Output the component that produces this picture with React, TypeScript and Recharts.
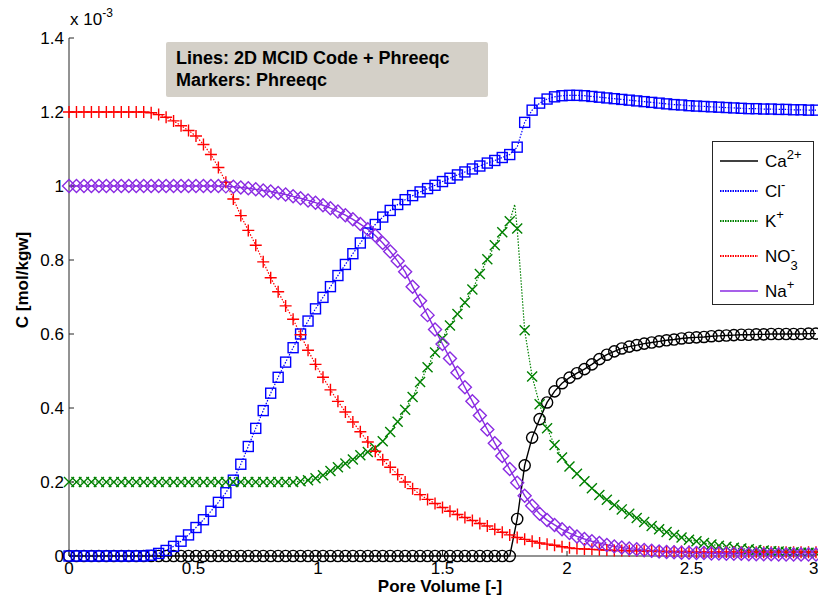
import React from "react";
import { ComposedChart, Line, Scatter, XAxis, YAxis } from "recharts";

// pore volume sampled by Phreeqc (every 0.03)
const PORE_VOLUME = [
  0, 0.03, 0.06, 0.09, 0.12, 0.15, 0.18, 0.21, 0.24, 0.27,
  0.3, 0.33, 0.36, 0.39, 0.42, 0.45, 0.48, 0.51, 0.54, 0.57,
  0.6, 0.63, 0.66, 0.69, 0.72, 0.75, 0.78, 0.81, 0.84, 0.87,
  0.9, 0.93, 0.96, 0.99, 1.02, 1.05, 1.08, 1.11, 1.14, 1.17,
  1.2, 1.23, 1.26, 1.29, 1.32, 1.35, 1.38, 1.41, 1.44, 1.47,
  1.5, 1.53, 1.56, 1.59, 1.62, 1.65, 1.68, 1.71, 1.74, 1.77,
  1.8, 1.83, 1.86, 1.89, 1.92, 1.95, 1.98, 2.01, 2.04, 2.07,
  2.1, 2.13, 2.16, 2.19, 2.22, 2.25, 2.28, 2.31, 2.34, 2.37,
  2.4, 2.43, 2.46, 2.49, 2.52, 2.55, 2.58, 2.61, 2.64, 2.67,
  2.7, 2.73, 2.76, 2.79, 2.82, 2.85, 2.88, 2.91, 2.94, 2.97,
  3,
];

// concentrations in 1e-3 mol/kgw
const CA = [
  0, 0, 0, 0, 0, 0, 0, 0, 0, 0,
  0, 0, 0, 0, 0, 0, 0, 0, 0, 0,
  0, 0, 0, 0, 0, 0, 0, 0, 0, 0,
  0, 0, 0, 0, 0, 0, 0, 0, 0, 0,
  0, 0, 0, 0, 0, 0, 0, 0, 0, 0,
  0, 0, 0, 0, 0, 0, 0, 0, 0, 0,
  0.1, 0.245, 0.32, 0.37, 0.415, 0.445, 0.467, 0.482, 0.494, 0.505,
  0.518, 0.532, 0.544, 0.553, 0.561, 0.566, 0.57, 0.574, 0.577, 0.58,
  0.583, 0.585, 0.588, 0.59, 0.591, 0.592, 0.594, 0.595, 0.596, 0.597,
  0.598, 0.598, 0.599, 0.599, 0.6, 0.6, 0.6, 0.6, 0.6, 0.601,
  0.601,
];

const CL = [
  0, 0, 0, 0, 0, 0, 0, 0, 0, 0,
  0, 0.002, 0.007, 0.015, 0.026, 0.04, 0.057, 0.077, 0.098, 0.121,
  0.145, 0.171, 0.205, 0.248, 0.296, 0.345, 0.393, 0.44, 0.483, 0.524,
  0.563, 0.6, 0.635, 0.668, 0.699, 0.728, 0.758, 0.788, 0.817, 0.846,
  0.873, 0.896, 0.916, 0.934, 0.95, 0.963, 0.974, 0.984, 0.993, 1.002,
  1.012, 1.021, 1.03, 1.038, 1.046, 1.054, 1.062, 1.069, 1.077, 1.085,
  1.105, 1.172, 1.205, 1.224, 1.235, 1.241, 1.244, 1.245, 1.245, 1.244,
  1.242, 1.24, 1.238, 1.236, 1.234, 1.232, 1.23, 1.228, 1.226, 1.224,
  1.222, 1.22, 1.219, 1.217, 1.216, 1.215, 1.214, 1.213, 1.212, 1.211,
  1.21, 1.209, 1.209, 1.208, 1.208, 1.207, 1.207, 1.206, 1.206, 1.205,
  1.205,
];

const K = [
  0.2, 0.2, 0.2, 0.2, 0.2, 0.2, 0.2, 0.2, 0.2, 0.2,
  0.2, 0.2, 0.2, 0.2, 0.2, 0.2, 0.2, 0.2, 0.2, 0.2,
  0.2, 0.2, 0.2, 0.2, 0.2, 0.2, 0.2, 0.2, 0.2, 0.2,
  0.2, 0.202, 0.205, 0.21, 0.218, 0.23, 0.24, 0.25, 0.261, 0.272,
  0.281, 0.292, 0.31, 0.335, 0.363, 0.395, 0.43, 0.47, 0.51, 0.55,
  0.588, 0.623, 0.654, 0.685, 0.72, 0.762, 0.802, 0.84, 0.875, 0.905,
  0.885, 0.61, 0.485, 0.41, 0.345, 0.3, 0.266, 0.242, 0.222, 0.202,
  0.183, 0.165, 0.152, 0.138, 0.126, 0.114, 0.103, 0.092, 0.081, 0.072,
  0.065, 0.057, 0.05, 0.044, 0.04, 0.035, 0.031, 0.028, 0.025, 0.022,
  0.02, 0.018, 0.016, 0.015, 0.013, 0.012, 0.011, 0.01, 0.009, 0.009,
  0.008,
];

// the fine-grid MCID line peaks between two Phreeqc samples
const K_PEAK_PV = 1.79;
const K_PEAK = 0.95;

const NO3 = [
  1.2, 1.2, 1.2, 1.2, 1.2, 1.2, 1.2, 1.2, 1.2, 1.2,
  1.2, 1.198, 1.193, 1.186, 1.176, 1.163, 1.15, 1.135, 1.112, 1.085,
  1.05, 1.01, 0.965, 0.92, 0.88, 0.84, 0.795, 0.752, 0.714, 0.676,
  0.64, 0.598, 0.556, 0.518, 0.483, 0.449, 0.418, 0.389, 0.362, 0.336,
  0.308, 0.283, 0.26, 0.24, 0.22, 0.2, 0.182, 0.166, 0.153, 0.142,
  0.131, 0.121, 0.112, 0.104, 0.096, 0.088, 0.081, 0.072, 0.064, 0.057,
  0.05, 0.045, 0.04, 0.035, 0.032, 0.029, 0.025, 0.022, 0.02, 0.019,
  0.018, 0.017, 0.016, 0.015, 0.015, 0.014, 0.014, 0.013, 0.013, 0.013,
  0.012, 0.012, 0.012, 0.012, 0.011, 0.011, 0.011, 0.011, 0.011, 0.011,
  0.01, 0.01, 0.01, 0.01, 0.01, 0.01, 0.01, 0.01, 0.01, 0.01,
  0.01,
];

const NA = [
  1, 1, 1, 1, 1, 1, 1, 1, 1, 1,
  1, 1, 1, 1, 1, 1, 1, 1, 1, 1,
  1, 0.999, 0.998, 0.996, 0.994, 0.991, 0.988, 0.985, 0.981, 0.977,
  0.972, 0.967, 0.961, 0.955, 0.948, 0.94, 0.931, 0.921, 0.91, 0.897,
  0.883, 0.866, 0.846, 0.823, 0.797, 0.768, 0.728, 0.69, 0.651, 0.612,
  0.573, 0.534, 0.495, 0.456, 0.418, 0.38, 0.342, 0.305, 0.27, 0.235,
  0.198, 0.163, 0.136, 0.114, 0.097, 0.084, 0.072, 0.062, 0.053, 0.046,
  0.04, 0.035, 0.03, 0.026, 0.023, 0.02, 0.018, 0.016, 0.014, 0.012,
  0.011, 0.01, 0.009, 0.009, 0.008, 0.008, 0.007, 0.007, 0.006, 0.006,
  0.006, 0.005, 0.005, 0.005, 0.005, 0.004, 0.004, 0.004, 0.004, 0.004,
  0.004,
];

const X_TICKS = [0, 0.5, 1, 1.5, 2, 2.5, 3];
const Y_TICKS = [0, 0.2, 0.4, 0.6, 0.8, 1, 1.2, 1.4];

const FONT = '"Liberation Sans", Arial, Helvetica, sans-serif';
const AXIS = "#262626";

type Pt = { x: number; y: number };
const toPoints = (values: number[]): Pt[] => PORE_VOLUME.map((x, i) => ({ x, y: values[i] }));

const kLine = (() => {
  const pts = toPoints(K);
  const at = pts.findIndex((p) => p.x > K_PEAK_PV);
  pts.splice(at, 0, { x: K_PEAK_PV, y: K_PEAK });
  return pts;
})();

const marker = (kind: string, color: string) => (p: any) => {
  const { cx, cy } = p;
  if (cx == null || cy == null) return null;
  const common = { fill: "none", stroke: color, strokeWidth: 1.4 };
  switch (kind) {
    case "circle":
      return <circle cx={cx} cy={cy} r={5.6} {...common} />;
    case "square":
      return <rect x={cx - 5} y={cy - 5} width={10} height={10} {...common} />;
    case "x":
      return <path d={`M${cx - 5},${cy - 5}L${cx + 5},${cy + 5}M${cx + 5},${cy - 5}L${cx - 5},${cy + 5}`} {...common} />;
    case "plus":
      return <path d={`M${cx - 6},${cy}H${cx + 6}M${cx},${cy - 6}V${cy + 6}`} {...common} />;
    default:
      return <path d={`M${cx},${cy - 6.5}L${cx + 6.5},${cy}L${cx},${cy + 6.5}L${cx - 6.5},${cy}Z`} {...common} />;
  }
};

const SERIES = [
  { key: "ca", name: "Ca", sup: "2+", sub: "", color: "#000000", dash: undefined, shape: "circle", values: CA },
  { key: "cl", name: "Cl", sup: "-", sub: "", color: "#0000ff", dash: "1.5 1.5", shape: "square", values: CL },
  { key: "k", name: "K", sup: "+", sub: "", color: "#008000", dash: "1.5 1.5", shape: "x", values: K },
  { key: "no3", name: "NO", sup: "-", sub: "3", color: "#ff0000", dash: "1.5 1.5", shape: "plus", values: NO3 },
  { key: "na", name: "Na", sup: "+", sub: "", color: "#8a2be2", dash: undefined, shape: "diamond", values: NA },
];

const ChartLegend = () => (
  <div
    style={{
      position: "absolute",
      left: 712,
      top: 141,
      width: 102,
      height: 164,
      border: `1px solid ${AXIS}`,
      background: "#fff",
      boxSizing: "border-box",
      paddingTop: 4,
      fontFamily: FONT,
      fontSize: 17,
    }}
  >
    {SERIES.map((s) => (
      <div key={s.key} style={{ display: "flex", alignItems: "center", height: s.sub ? 40 : 30 }}>
        <svg width={46} height={6} style={{ marginLeft: 6 }}>
          <line x1={1} y1={3} x2={39} y2={3} stroke={s.color} strokeWidth={s.dash ? 2 : 1.6} strokeDasharray={s.dash ? "1.5 1" : undefined} />
        </svg>
        <span style={{ position: "relative", lineHeight: 1 }}>
          {s.name}
          {s.sub ? (
            <span style={{ position: "relative", fontSize: 13, top: 8 }}>{s.sub}</span>
          ) : null}
          <span style={{ position: "relative", fontSize: 13, top: -8, marginLeft: s.sub ? -7 : 0 }}>{s.sup}</span>
        </span>
      </div>
    ))}
  </div>
);

export default function App() {
  const tickStyle = { fill: "#000", fontSize: 17, fontFamily: FONT };
  return (
    <div style={{ position: "absolute", left: 0, top: 0, width: 818, height: 604, background: "#fff", fontFamily: FONT }}>
      <ComposedChart width={818} height={604} margin={{ top: 38, right: 2, bottom: 0, left: 0 }}>
        <XAxis
          xAxisId="b"
          type="number"
          dataKey="x"
          domain={[0, 3]}
          ticks={X_TICKS}
          height={48}
          stroke={AXIS}
          tickSize={-5}
          tickMargin={11}
          tick={tickStyle}
        />
        <XAxis xAxisId="t" orientation="top" type="number" domain={[0, 3]} ticks={X_TICKS} allowDataOverflow height={0} stroke={AXIS} tickSize={-5} tick={false} />
        <YAxis
          yAxisId="l"
          type="number"
          dataKey="y"
          domain={[0, 1.4]}
          ticks={Y_TICKS}
          width={69}
          stroke={AXIS}
          tickSize={-5}
          tickMargin={10}
          tick={tickStyle}
        />
        <YAxis yAxisId="r" orientation="right" type="number" domain={[0, 1.4]} ticks={Y_TICKS} allowDataOverflow width={0} stroke={AXIS} tickSize={-5} tick={false} />

        {SERIES.map((s) => (
          <Line
            key={`line-${s.key}`}
            xAxisId="b"
            yAxisId="l"
            data={s.key === "k" ? kLine : toPoints(s.values)}
            dataKey="y"
            type="linear"
            stroke={s.color}
            strokeWidth={s.dash ? 1.2 : 1.4}
            strokeDasharray={s.dash}
            dot={false}
            activeDot={false}
            isAnimationActive={false}
          />
        ))}
        {SERIES.map((s) => (
          <Scatter
            key={`pts-${s.key}`}
            xAxisId="b"
            yAxisId="l"
            data={toPoints(s.values)}
            dataKey="y"
            shape={marker(s.shape, s.color)}
            isAnimationActive={false}
          />
        ))}
      </ComposedChart>

      <div style={{ position: "absolute", left: 70, top: 10, fontSize: 17, color: "#000" }}>
        x 10<span style={{ fontSize: 12, position: "relative", top: -8 }}>-3</span>
      </div>

      <div
        style={{
          position: "absolute",
          left: 166,
          top: 42,
          width: 322,
          height: 55,
          background: "#d4d0c8",
          borderRadius: 2,
          boxSizing: "border-box",
          padding: "5px 0 0 10px",
          fontWeight: "bold",
          fontSize: 18,
          lineHeight: "22px",
          color: "#000",
        }}
      >
        <div>Lines: 2D MCID Code + Phreeqc</div>
        <div>Markers: Phreeqc</div>
      </div>

      <ChartLegend />

      <div style={{ position: "absolute", left: 0, width: 818, top: 577, textAlign: "center", paddingLeft: 62, boxSizing: "border-box", fontWeight: "bold", fontSize: 17 }}>
        Pore Volume [-]
      </div>
      <div
        style={{
          position: "absolute",
          left: 23,
          top: 280,
          transform: "translate(-50%, -50%) rotate(-90deg)",
          whiteSpace: "nowrap",
          fontWeight: "bold",
          fontSize: 17,
        }}
      >
        C [mol/kgw]
      </div>
    </div>
  );
}
